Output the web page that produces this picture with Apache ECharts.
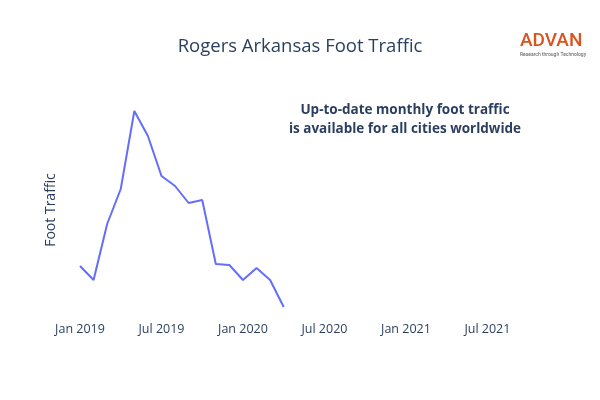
<!DOCTYPE html>
<html><head><meta charset="utf-8">
<script src="https://cdn.jsdelivr.net/npm/echarts@6/dist/echarts.min.js"></script>
<style>html,body{margin:0;padding:0;background:#fff}#c{width:600px;height:400px}</style>
</head><body><div id="c"></div>
<script>
const monthIndex = [0,1,2,3,4,5,6,7,8,9,10,11,12,13,14,15]; // months since Jan 2019
const traffic = [54,40,96,131,209,184,144,134,117,120,56,55,40,52,40,13];
const tickLabels = {0:'Jan 2019',6:'Jul 2019',12:'Jan 2020',18:'Jul 2020',24:'Jan 2021',30:'Jul 2021'};
const chart = echarts.init(document.getElementById('c'));
chart.setOption({
  animation:false,
  title:{text:'Rogers Arkansas Foot Traffic',left:'center',top:32,textStyle:{fontFamily:'Open Sans',fontSize:18.5,fontWeight:'normal',color:'#2a3f5f'}},
  graphic:[
    {type:'text',x:520,y:32,style:{text:'ADVAN',font:'500 19px Roboto',fill:'#d9541e'}},
    {type:'text',x:520,y:52,style:{text:'Research through Technology',font:'5px Roboto',fill:'#555'}},
    {type:'text',x:405,y:101,style:{text:'Up-to-date monthly foot traffic\nis available for all cities worldwide',font:'bold 13.5px Open Sans',fill:'#2a3f5f',align:'center',lineHeight:19}}
  ],
  grid:{left:80,right:80,top:100,bottom:80},
  xAxis:{type:'value',min:0,max:32.4,interval:6,splitLine:{show:false},axisLine:{show:false},axisTick:{show:false},
    axisLabel:{fontFamily:'Open Sans',fontSize:12.5,color:'#2a3f5f',margin:3,showMaxLabel:false,
      formatter:v=>tickLabels[Math.round(v)]||''}},
  yAxis:{type:'value',min:0,max:220,name:'Foot Traffic',nameLocation:'middle',nameGap:22,nameTextStyle:{fontFamily:'Open Sans',fontSize:14,color:'#2a3f5f'},
    axisLabel:{show:false},splitLine:{show:false},axisLine:{show:false},axisTick:{show:false}},
  series:[{type:'line',data:monthIndex.map((m,i)=>[m,traffic[i]]),showSymbol:false,lineStyle:{color:'#636efa',width:2}}]
});
</script></body></html>
